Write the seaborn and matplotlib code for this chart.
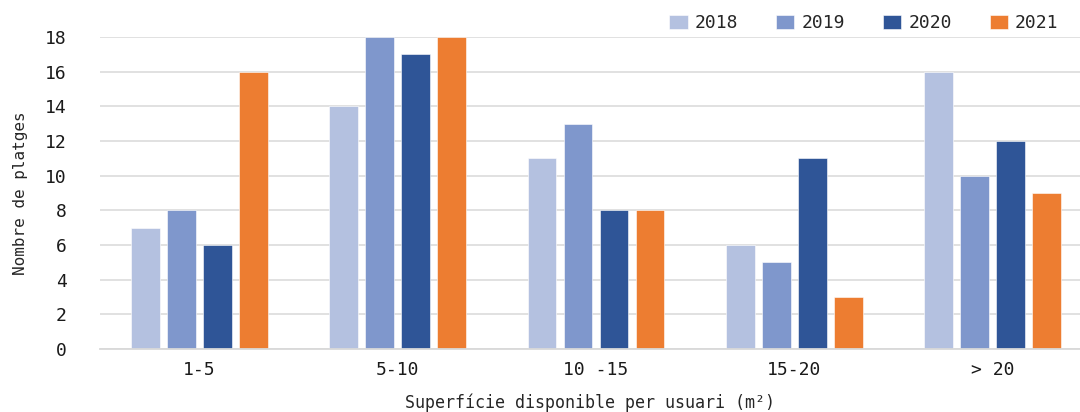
import numpy as np
import pandas as pd
import seaborn as sns
import matplotlib as mat

mat.use("Agg")

import matplotlib.pyplot as plt

# dades llegides del gràfic
categories = ["1-5", "5-10", "10 -15", "15-20", "> 20"]
anys = ["2018", "2019", "2020", "2021"]
valors_2018 = [7, 14, 11, 6, 16]
valors_2019 = [8, 18, 13, 5, 10]
valors_2020 = [6, 17, 8, 11, 12]
valors_2021 = [16, 18, 8, 3, 9]
colors = ["#B4C1E0", "#7F97CC", "#2F5597", "#ED7D31"]


def construir_taula() -> pd.DataFrame:
    files = []
    for any_, valors in zip(anys, [valors_2018, valors_2019, valors_2020, valors_2021]):
        for cat, v in zip(categories, valors):
            files.append({"superficie": cat, "any": any_, "platges": v})
    return pd.DataFrame(files)


def main() -> None:
    sns.set_theme(style="white")
    plt.rcParams["font.family"] = ["DejaVu Sans Mono", "DejaVu Sans"]

    df = construir_taula()

    fig = plt.figure(figsize=(10.8, 4.12), dpi=100)
    ax = fig.add_axes([0.0926, 0.153, 0.9074, 0.757])

    sns.barplot(
        data=df,
        x="superficie",
        y="platges",
        hue="any",
        order=categories,
        hue_order=anys,
        palette=colors,
        saturation=1,
        width=0.725,
        gap=0.2,
        edgecolor="white",
        linewidth=0.4,
        ax=ax,
        legend=True,
    )

    ax.set_ylim(0, 18)
    ax.set_xlim(-0.5, 4.44)
    ax.set_yticks(np.arange(0, 19, 2))
    ax.yaxis.grid(True, color="#D9D9D9", linewidth=1.1)
    ax.set_axisbelow(True)
    for lado in ["top", "right", "left"]:
        ax.spines[lado].set_visible(False)
    ax.spines["bottom"].set_color("#D9D9D9")
    ax.spines["bottom"].set_linewidth(1.3)

    ax.tick_params(axis="both", length=0, labelsize=13, colors="#1a1a1a")
    ax.tick_params(axis="x", pad=9)
    ax.tick_params(axis="y", pad=24)

    ax.set_xlabel("Superfície disponible per usuari (m²)", fontsize=12, labelpad=10)
    ax.set_ylabel("Nombre de platges", fontsize=11.5, labelpad=12)

    handles, labels = ax.get_legend_handles_labels()
    ax.get_legend().remove()
    fig.legend(
        handles,
        labels,
        loc="upper right",
        bbox_to_anchor=(0.995, 1.005),
        ncol=4,
        frameon=False,
        fontsize=13,
        handlelength=1.0,
        handleheight=0.8,
        handletextpad=0.4,
        columnspacing=2.1,
    )

    fig.savefig("out.png", dpi=100)
    plt.close(fig)


if __name__ == "__main__":
    main()
